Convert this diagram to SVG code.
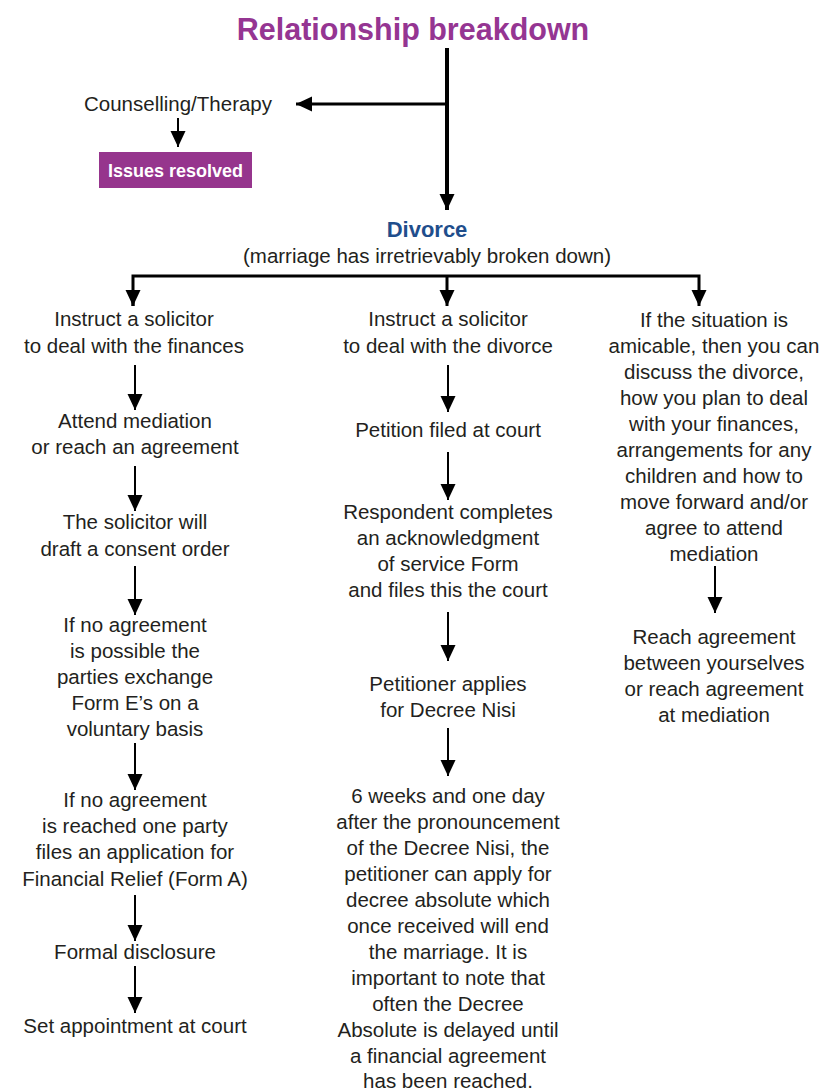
<svg xmlns="http://www.w3.org/2000/svg" width="823" height="1091" viewBox="0 0 823 1091">
<style>
text{font-family:"Liberation Sans",Arial,sans-serif;fill:#231f20;text-anchor:middle}
.t{font-size:20.5px}
.title{font-size:30.5px;font-weight:bold;fill:#953592}
.div{font-size:22px;font-weight:bold;fill:#1f4e8c}
.box{font-size:18px;font-weight:bold;fill:#ffffff}
.thin{stroke:#000;stroke-width:2;fill:none}
.thick{stroke:#000;stroke-width:4;fill:none}
.mid{stroke:#000;stroke-width:3;fill:none}
</style>
<defs>
<marker id="ah" markerUnits="userSpaceOnUse" markerWidth="18" markerHeight="16" refX="16" refY="7.5" orient="auto"><path d="M0,0 L16,7.5 L0,15 z" fill="#000"/></marker>
</defs>
<rect width="823" height="1091" fill="#ffffff"/>
<g id="connectors">
<line class="thick" x1="447" y1="48" x2="447" y2="210" marker-end="url(#ah)"/>
<line class="mid" x1="447" y1="104" x2="296" y2="104" marker-end="url(#ah)"/>
<line class="thin" x1="178" y1="118" x2="178" y2="147" marker-end="url(#ah)"/>
<polyline class="mid" points="133,306 133,276 699,276 699,306" marker-end="url(#ah)"/>
<line class="mid" x1="133" y1="290" x2="133" y2="306" marker-end="url(#ah)"/>
<line class="mid" x1="447" y1="276" x2="447" y2="306" marker-end="url(#ah)"/>
<line class="thin" x1="135" y1="365" x2="135" y2="410" marker-end="url(#ah)"/>
<line class="thin" x1="135" y1="466" x2="135" y2="511" marker-end="url(#ah)"/>
<line class="thin" x1="135" y1="566" x2="135" y2="615" marker-end="url(#ah)"/>
<line class="thin" x1="135" y1="743" x2="135" y2="790" marker-end="url(#ah)"/>
<line class="thin" x1="135" y1="895" x2="135" y2="941" marker-end="url(#ah)"/>
<line class="thin" x1="135" y1="966" x2="135" y2="1013" marker-end="url(#ah)"/>
<line class="thin" x1="448" y1="365" x2="448" y2="412" marker-end="url(#ah)"/>
<line class="thin" x1="448" y1="452" x2="448" y2="500" marker-end="url(#ah)"/>
<line class="thin" x1="448" y1="612" x2="448" y2="661" marker-end="url(#ah)"/>
<line class="thin" x1="448" y1="728" x2="448" y2="776" marker-end="url(#ah)"/>
<line class="thin" x1="715" y1="566" x2="715" y2="613" marker-end="url(#ah)"/>
</g>
<g id="title"><text class="title" x="413" y="40">Relationship breakdown</text></g>
<g id="counselling"><text class="t" x="178" y="111">Counselling/Therapy</text></g>
<g id="issues-resolved"><rect x="99" y="152" width="153" height="36" fill="#96358d"/><text class="box" x="175.5" y="177">Issues resolved</text></g>
<g id="divorce"><text class="div" x="427" y="237">Divorce</text><text class="t" x="427" y="263">(marriage has irretrievably broken down)</text></g>
<g id="c1-n1"><text class="t" x="134" y="326">Instruct a solicitor</text><text class="t" x="134" y="353">to deal with the finances</text></g>
<g id="c1-n2"><text class="t" x="135" y="428">Attend mediation</text><text class="t" x="135" y="454">or reach an agreement</text></g>
<g id="c1-n3"><text class="t" x="135" y="529">The solicitor will</text><text class="t" x="135" y="556">draft a consent order</text></g>
<g id="c1-n4"><text class="t" x="135" y="632">If no agreement</text><text class="t" x="135" y="658">is possible the</text><text class="t" x="135" y="684">parties exchange</text><text class="t" x="135" y="710">Form E’s on a</text><text class="t" x="135" y="736">voluntary basis</text></g>
<g id="c1-n5"><text class="t" x="135" y="807">If no agreement</text><text class="t" x="135" y="833">is reached one party</text><text class="t" x="135" y="859">files an application for</text><text class="t" x="135" y="886">Financial Relief (Form A)</text></g>
<g id="c1-n6"><text class="t" x="135" y="959">Formal disclosure</text></g>
<g id="c1-n7"><text class="t" x="135" y="1033">Set appointment at court</text></g>
<g id="c2-n1"><text class="t" x="448" y="326">Instruct a solicitor</text><text class="t" x="448" y="353">to deal with the divorce</text></g>
<g id="c2-n2"><text class="t" x="448" y="437">Petition filed at court</text></g>
<g id="c2-n3"><text class="t" x="448" y="519">Respondent completes</text><text class="t" x="448" y="545">an acknowledgment</text><text class="t" x="448" y="571">of service Form</text><text class="t" x="448" y="597">and files this the court</text></g>
<g id="c2-n4"><text class="t" x="448" y="691">Petitioner applies</text><text class="t" x="448" y="717">for Decree Nisi</text></g>
<g id="c2-n5"><text class="t" x="448" y="803">6 weeks and one day</text><text class="t" x="448" y="829">after the pronouncement</text><text class="t" x="448" y="855">of the Decree Nisi, the</text><text class="t" x="448" y="881">petitioner can apply for</text><text class="t" x="448" y="907">decree absolute which</text><text class="t" x="448" y="933">once received will end</text><text class="t" x="448" y="959">the marriage. It is</text><text class="t" x="448" y="985">important to note that</text><text class="t" x="448" y="1011">often the Decree</text><text class="t" x="448" y="1037">Absolute is delayed until</text><text class="t" x="448" y="1063">a financial agreement</text><text class="t" x="448" y="1088">has been reached.</text></g>
<g id="c3-n1"><text class="t" x="714" y="327">If the situation is</text><text class="t" x="714" y="353">amicable, then you can</text><text class="t" x="714" y="379">discuss the divorce,</text><text class="t" x="714" y="405">how you plan to deal</text><text class="t" x="714" y="431">with your finances,</text><text class="t" x="714" y="457">arrangements for any</text><text class="t" x="714" y="483">children and how to</text><text class="t" x="714" y="509">move forward and/or</text><text class="t" x="714" y="535">agree to attend</text><text class="t" x="714" y="561">mediation</text></g>
<g id="c3-n2"><text class="t" x="714" y="644">Reach agreement</text><text class="t" x="714" y="670">between yourselves</text><text class="t" x="714" y="696">or reach agreement</text><text class="t" x="714" y="722">at mediation</text></g>
</svg>
